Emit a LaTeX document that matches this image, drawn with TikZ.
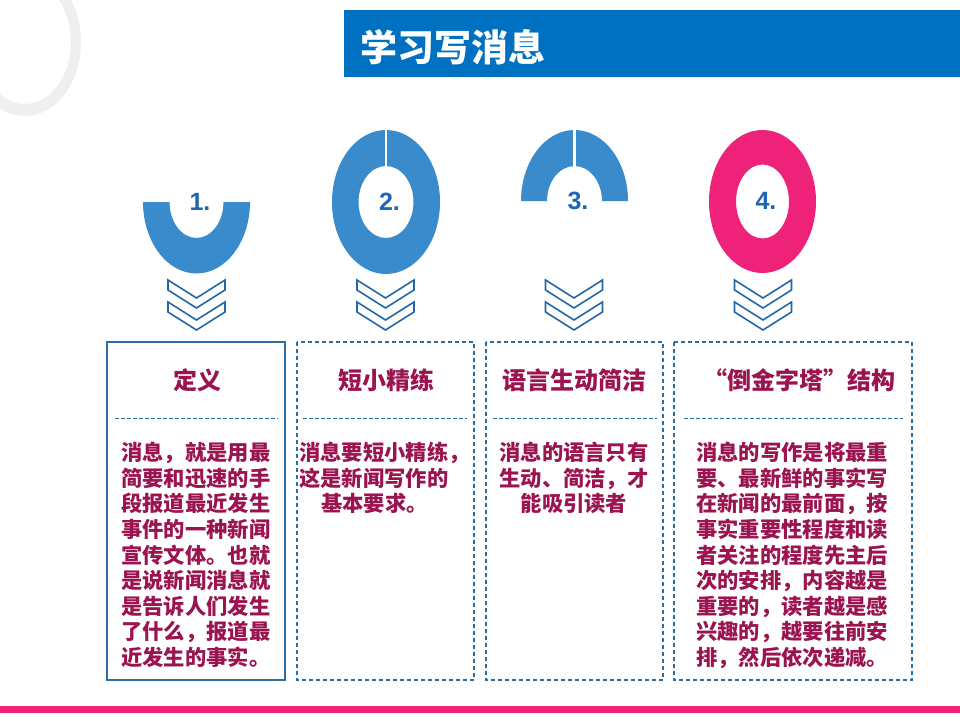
\documentclass[tikz,border=0pt]{standalone}
\usepackage{fontspec}
\setmainfont{Liberation Sans}
\newfontfamily\cjk{Noto Sans CJK SC}
\definecolor{titleblue}{HTML}{0070C0}
\definecolor{ringblue}{HTML}{3A8BCB}
\definecolor{ringpink}{HTML}{EE2278}
\definecolor{chevblue}{HTML}{2467A6}
\definecolor{boxblue}{HTML}{2A6EA8}
\definecolor{textred}{HTML}{9B1450}
\definecolor{numblue}{HTML}{1E66B4}
\definecolor{lightgray}{HTML}{EFEFEF}
\tikzset{
  numlabel/.style={inner sep=0pt, text=numblue, font=\fontsize{25}{25}\selectfont\bfseries},
  chev/.style={draw=chevblue, line width=1.6pt, line join=miter},
  chevron/.pic={
    \draw[chev] (-28.5,0) -- (0,18) -- (28.5,0) -- (28.5,10) -- (0,28) -- (-28.5,10) -- cycle;
    \draw[chev] (-28.5,22) -- (0,40) -- (28.5,22) -- (28.5,32) -- (0,50) -- (-28.5,32) -- cycle;
  },
  solidbox/.style={draw=boxblue, line width=2pt},
  dashbox/.style={draw=boxblue, line width=1.8pt, dash pattern=on 4pt off 3pt},
  sepline/.style={draw=boxblue, line width=0.9pt, dash pattern=on 3.5pt off 2.5pt},
  heading/.style={inner sep=0pt, text=textred, font=\cjk\bfseries\fontsize{24}{24}\selectfont},
  bodytext/.style={inner sep=0pt, text=textred, font=\cjk\bfseries\fontsize{21.3}{25.6}\selectfont},
}
\begin{document}
\begin{tikzpicture}[x=1pt,y=-1pt]
\useasboundingbox[fill=white] (0,0) rectangle (960,720);
% background gray arc
\begin{scope}
\clip (0,0) rectangle (960,720);
\fill[lightgray, even odd rule] (25,42) ellipse[x radius=56, y radius=74] (25,42) ellipse[x radius=46, y radius=62];
\end{scope}
% title bar
\fill[titleblue] (344,10) rectangle (960,77);
\node[anchor=west, inner sep=0pt, text=white, font=\cjk\bfseries\fontsize{37}{37}\selectfont] (title) at (360,47.5) {学习写消息};
% ring 1 (bottom half)
\fill[ringblue] (143,202) arc[start angle=180, end angle=0, x radius=53.5, y radius=71.5] -- (223.5,202) arc[start angle=0, end angle=180, x radius=27, y radius=36] -- cycle;
\node[numlabel] (n1) at (200,202) {1.};
% ring 2 (full)
\fill[ringblue, even odd rule] (386,202) ellipse[x radius=54, y radius=72] (386,202) ellipse[x radius=27.5, y radius=36];
\draw[white, line width=2.5pt] (386,128) -- (386,168);
\node[numlabel] (n2) at (389.5,202) {2.};
% ring 3 (top half)
\fill[ringblue] (521,201) arc[start angle=180, end angle=360, x radius=53.5, y radius=71] -- (602,201) arc[start angle=0, end angle=-180, x radius=27.5, y radius=35] -- cycle;
\draw[white, line width=2.5pt] (574.5,128) -- (574.5,168);
\node[numlabel] (n3) at (578,201) {3.};
% ring 4 (pink full)
\fill[ringpink, even odd rule] (762.5,201.5) ellipse[x radius=53.5, y radius=71.5] (762.5,201.5) ellipse[x radius=26.5, y radius=37];
\node[numlabel] (n4) at (766,201) {4.};
% chevrons
\pic at (196.5,280) {chevron};
\pic at (385.5,280) {chevron};
\pic at (574,280) {chevron};
\pic at (763,280) {chevron};
% boxes
\draw[solidbox] (107,342) rectangle (285,680);
\draw[dashbox] (297,342) rectangle (474,680);
\draw[dashbox] (486,342) rectangle (663,680);
\draw[dashbox] (674,342) rectangle (912,680);
\draw[sepline] (115,418) -- (278,418);
\draw[sepline] (303,418) -- (467,418);
\draw[sepline] (493,418) -- (657,418);
\draw[sepline] (684,418) -- (903,418);
% headings
\node[heading] (h1) at (197,380) {定义};
\node[heading] (h2) at (386,380) {短小精练};
\node[heading] (h3) at (574,380) {语言生动简洁};
\node[heading] (h4) at (799,380) {“倒金字塔”结构};
% body texts
\node[bodytext, anchor=north west, align=left] (b1) at (121,442) {消息，就是用最\\简要和迅速的手\\段报道最近发生\\事件的一种新闻\\宣传文体。也就\\是说新闻消息就\\是告诉人们发生\\了什么，报道最\\近发生的事实。};
\node[bodytext, anchor=north west, align=left] (b2) at (299,442) {消息要短小精练，\\这是新闻写作的\\\hspace*{22pt}基本要求。};
\node[bodytext, anchor=north, align=center] (b3) at (574,442) {消息的语言只有\\生动、简洁，才\\能吸引读者};
\node[bodytext, anchor=north west, align=left] (b4) at (696,442) {消息的写作是将最重\\要、最新鲜的事实写\\在新闻的最前面，按\\事实重要性程度和读\\者关注的程度先主后\\次的安排，内容越是\\重要的，读者越是感\\兴趣的，越要往前安\\排，然后依次递减。};
% bottom bar
\fill[ringpink] (0,706) rectangle (960,713);
\end{tikzpicture}
\end{document}
